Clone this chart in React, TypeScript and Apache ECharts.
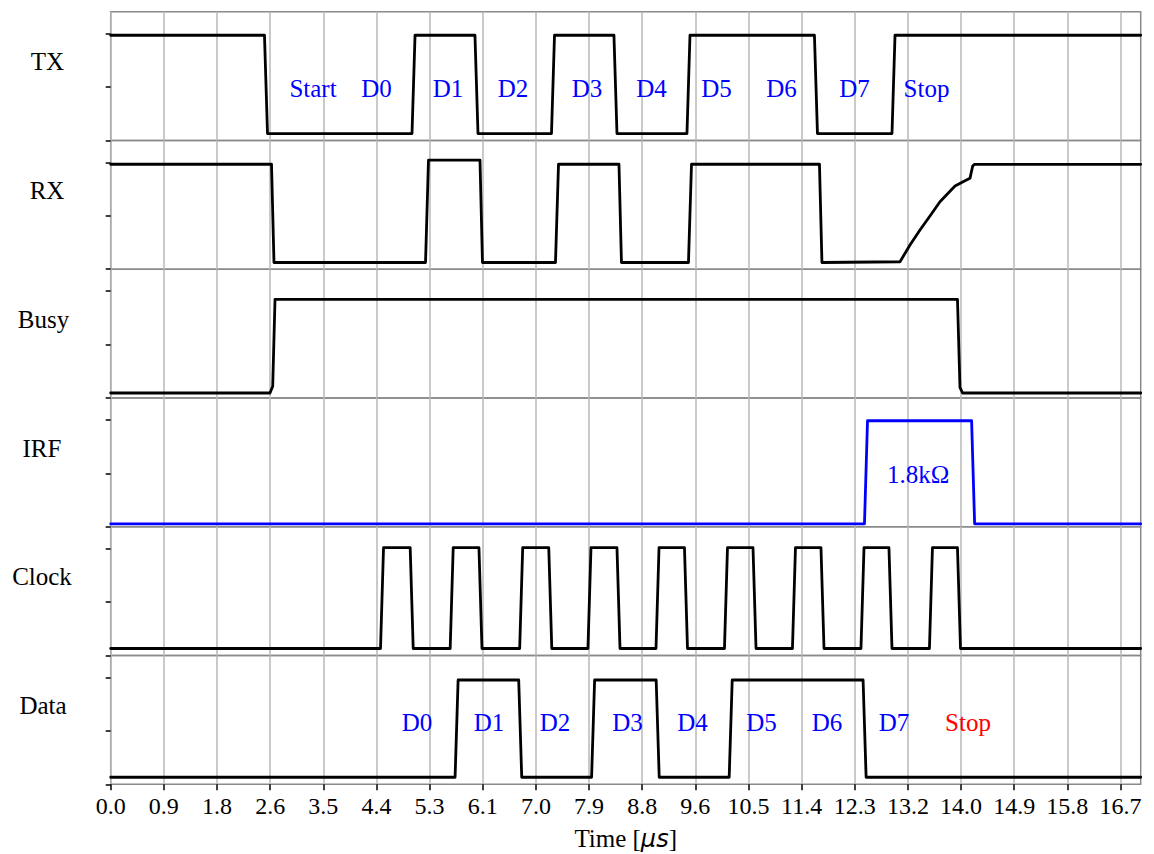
import React, { useEffect, useRef } from "react";
import * as echarts from "echarts";

// ---------- data ----------
const X_MAX = 17;
const X_TICK_STEP = 50 / 57;
const X_TICK_LABELS = ["0.0", "0.9", "1.8", "2.6", "3.5", "4.4", "5.3", "6.1", "7.0", "7.9", "8.8", "9.6", "10.5", "11.4", "12.3", "13.2", "14.0", "14.9", "15.8", "16.7"];
const Y_TICKS = [0, 0.5, 1];
const PANEL_NAMES = ["TX", "RX", "Busy", "IRF", "Clock", "Data"];

// edge times (µs) for simple square waves
const TX_EDGES = [2.563, 4.998, 6.037, 7.3, 8.331, 9.536, 11.64, 12.92];
const TX_LEVELS = [0.065, 0.985]; // low, high
const CLOCK_EDGES = [4.478, 4.968, 5.628, 6.103, 6.775, 7.255, 7.902, 8.381, 9.025, 9.495, 10.155, 10.626, 11.277, 11.748, 12.408, 12.87, 13.538, 14.001];
const CLOCK_LEVELS = [0.066, 1.01];
const DATA_EDGES = [5.709, 6.759, 7.962, 9.028, 10.233, 12.443];
const DATA_LEVELS = [0.066, 0.977];
const IRF_EDGES = [12.466, 14.234];
const IRF_LEVELS = [0.028, 0.993];

// explicit waveforms [t, v]
const RX_POINTS: [number, number][] = [
  [0, 0.983], [2.654, 0.983], [2.695, 0.063], [5.196, 0.063], [5.245, 1.022], [6.095, 1.022], [6.136, 0.063],
  [7.341, 0.063], [7.391, 0.983], [8.389, 0.983], [8.43, 0.063], [9.536, 0.063], [9.586, 0.983],
  [11.698, 0.983], [11.739, 0.063], [13.027, 0.07], [13.192, 0.227], [13.357, 0.367], [13.522, 0.498],
  [13.687, 0.632], [13.935, 0.779], [14.1, 0.829], [14.182, 0.851], [14.227, 0.966], [14.257, 0.982], [17, 0.982],
];
const BUSY_POINTS: [number, number][] = [
  [0, 0.047], [2.629, 0.047], [2.674, 0.11], [2.712, 0.924], [13.976, 0.924], [14.017, 0.1], [14.059, 0.047], [17, 0.047],
];

// text annotations
const TX_TEXTS = ["Start", "D0", "D1", "D2", "D3", "D4", "D5", "D6", "D7", "Stop"];
const TX_TEXT_T = [3.339, 4.387, 5.567, 6.64, 7.862, 8.925, 9.999, 11.071, 12.276, 13.464];
const TX_TEXT_V = 0.485;
const DATA_TEXTS = ["D0", "D1", "D2", "D3", "D4", "D5", "D6", "D7", "Stop"];
const DATA_TEXT_T = [5.054, 6.244, 7.333, 8.53, 9.602, 10.741, 11.822, 12.928, 14.149];
const DATA_TEXT_V = 0.583;
const IRF_TEXT = "1.8kΩ";
const IRF_TEXT_T = 13.329;
const IRF_TEXT_V = 0.49;

// ---------- helpers ----------
const HW = 0.025;
function square(edges: number[], startHigh: boolean, levels: number[]): [number, number][] {
  let hi = startHigh;
  const lv = () => (hi ? levels[1] : levels[0]);
  const pts: [number, number][] = [[0, lv()]];
  for (const e of edges) {
    pts.push([e - HW, lv()]);
    hi = !hi;
    pts.push([e + HW, lv()]);
  }
  pts.push([X_MAX, lv()]);
  return pts;
}

const SERIF = "'Liberation Serif', 'Times New Roman', serif";

export default function App() {
  const ref = useRef<HTMLDivElement>(null);
  useEffect(() => {
    document.body.style.margin = "0";
    if (!ref.current) return;
    const chart = echarts.init(ref.current, null, { renderer: "svg" });

    const left = 110.7;
    const width = 1030;
    const top0 = 11.7;
    const ph = 128.77;
    const yMax = ph / 106.8;
    const xTicks = X_TICK_LABELS.map((_, i) => i * X_TICK_STEP);

    const grids = PANEL_NAMES.map((_, i) => ({
      left, width, top: top0 + i * ph, height: ph,
      show: true, borderColor: "#8a8a8a", borderWidth: 1.5, backgroundColor: "transparent",
    }));
    const isLast = (i: number) => i === PANEL_NAMES.length - 1;
    const xAxes = PANEL_NAMES.map((_, i) => ({
      type: "value", gridIndex: i, min: 0, max: X_MAX, interval: X_TICK_STEP,
      axisLine: { show: false },
      axisTick: { show: isLast(i), customValues: xTicks, length: 6, lineStyle: { color: "#000", width: 1.5 } },
      axisLabel: {
        show: isLast(i), customValues: xTicks, margin: 10,
        formatter: (v: number) => {
          const k = Math.round(v / X_TICK_STEP);
          return Math.abs(k * X_TICK_STEP - v) < 1e-6 && X_TICK_LABELS[k] ? X_TICK_LABELS[k] : "";
        },
        color: "#000", fontSize: 24, fontFamily: SERIF,
      },
      splitLine: { show: true, lineStyle: { color: "#b8b8b8", width: 1.5 } },
      ...(isLast(i)
        ? {
            name: "{a|Time [}{b|μs}{a|]}", nameLocation: "middle", nameGap: 42,
            nameTextStyle: {
              rich: {
                a: { fontSize: 25, fontFamily: SERIF, color: "#000" },
                b: { fontSize: 24, fontFamily: "'DejaVu Sans'", fontStyle: "italic", color: "#000" },
              },
            },
          }
        : {}),
    }));
    const yAxes = PANEL_NAMES.map((_, i) => ({
      type: "value", gridIndex: i, min: 0, max: yMax, interval: 0.5,
      axisLine: { show: false },
      axisTick: { show: true, customValues: Y_TICKS, length: 5, lineStyle: { color: "#000", width: 1.5 } },
      axisLabel: { show: false },
      splitLine: { show: false },
    }));

    const line = (i: number, data: [number, number][], color = "#000") => ({
      type: "line", xAxisIndex: i, yAxisIndex: i, data, showSymbol: false, symbol: "none",
      lineStyle: { color, width: 2.8, join: "round", cap: "round" }, silent: true, z: 3,
    });
    const texts = (i: number, names: string[], ts: number[], v: number, colorFn: (n: string, k: number) => string) => ({
      type: "scatter", xAxisIndex: i, yAxisIndex: i, symbolSize: 0, silent: true, z: 4,
      itemStyle: { opacity: 1 },
      data: names.map((n, k) => ({
        name: n, value: [ts[k], v],
        label: { color: colorFn(n, k) },
      })),
      label: { show: true, position: "inside", formatter: "{b}", fontSize: 25, fontFamily: SERIF, color: "#0000ff", opacity: 1 },
    });

    const series: any[] = [
      line(0, square(TX_EDGES, true, TX_LEVELS)),
      line(1, RX_POINTS),
      line(2, BUSY_POINTS),
      line(3, square(IRF_EDGES, false, IRF_LEVELS), "#0000ff"),
      line(4, square(CLOCK_EDGES, false, CLOCK_LEVELS)),
      line(5, square(DATA_EDGES, false, DATA_LEVELS)),
      texts(0, TX_TEXTS, TX_TEXT_T, TX_TEXT_V, () => "#0000ff"),
      texts(5, DATA_TEXTS, DATA_TEXT_T, DATA_TEXT_V, (n, k) => (k === DATA_TEXTS.length - 1 ? "#ff0000" : "#0000ff")),
      texts(3, [IRF_TEXT], [IRF_TEXT_T], IRF_TEXT_V, () => "#0000ff"),
    ];

    const labelX = [47.5, 47, 43.5, 42, 42, 43];
    const graphic = PANEL_NAMES.map((n, i) => ({
      type: "text", x: labelX[i], y: top0 + i * ph + 50,
      style: { text: n, fill: "#000", font: `25px ${SERIF}`, textAlign: "center", textVerticalAlign: "middle" },
    }));

    chart.setOption({
      animation: false,
      backgroundColor: "#fff",
      grid: grids,
      xAxis: xAxes,
      yAxis: yAxes,
      series,
      graphic,
    });
    return () => chart.dispose();
  }, []);
  return <div ref={ref} style={{ width: 1154, height: 854 }} />;
}
